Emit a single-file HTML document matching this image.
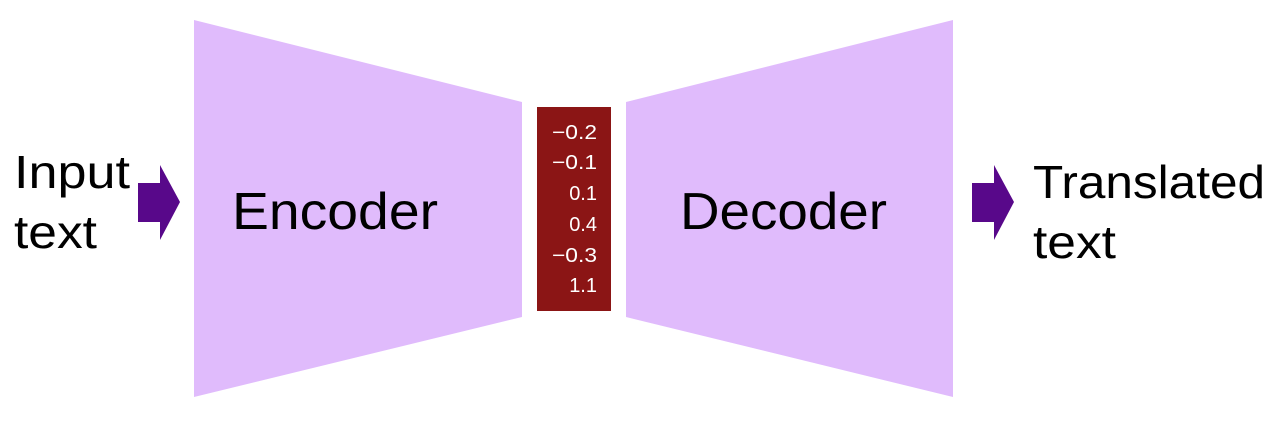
<!DOCTYPE html>
<html><head><style>html,body{margin:0;padding:0;background:#fff;}svg{display:block}</style></head>
<body>
<svg width="1280" height="422" viewBox="0 0 1280 422" xmlns="http://www.w3.org/2000/svg" font-family="'Liberation Sans', sans-serif">
<polygon points="194,20 522,102 522,317 194,397" fill="#e0bbfc"/>
<polygon points="626,102 953,20 953,397 626,317" fill="#e0bbfc"/>
<rect x="537" y="107" width="74" height="204" fill="#8b1515"/>
<g fill="#fff" font-size="20" text-anchor="end">
<text x="597" y="139" textLength="45" lengthAdjust="spacingAndGlyphs">−0.2</text>
<text x="597" y="169" textLength="45" lengthAdjust="spacingAndGlyphs">−0.1</text>
<text x="597" y="200">0.1</text>
<text x="597" y="231">0.4</text>
<text x="597" y="262" textLength="45" lengthAdjust="spacingAndGlyphs">−0.3</text>
<text x="597" y="292">1.1</text>
</g>
<polygon points="138,183 160,183 160,165 180,202 160,240 160,222 138,222" fill="#58088a"/>
<polygon points="972,183 994,183 994,165 1014,202 994,240 994,222 972,222" fill="#58088a"/>
<g fill="#000" font-size="46">
<text x="14" y="188" textLength="116" lengthAdjust="spacingAndGlyphs">Input</text>
<text x="14" y="248" textLength="83" lengthAdjust="spacingAndGlyphs">text</text>
<text x="1033" y="198" textLength="232" lengthAdjust="spacingAndGlyphs">Translated</text>
<text x="1033" y="258" textLength="83" lengthAdjust="spacingAndGlyphs">text</text>
</g>
<g fill="#000" font-size="52">
<text x="232" y="229" textLength="206" lengthAdjust="spacingAndGlyphs">Encoder</text>
<text x="680" y="229" textLength="207" lengthAdjust="spacingAndGlyphs">Decoder</text>
</g>
</svg>
</body></html>
